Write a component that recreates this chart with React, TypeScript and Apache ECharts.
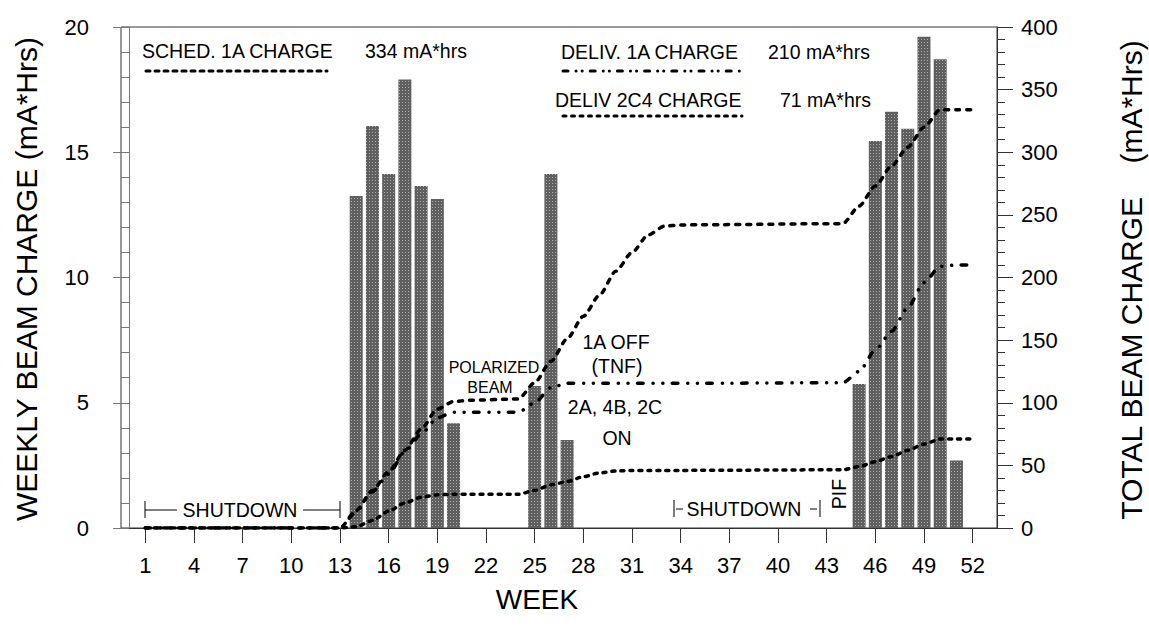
import React, { useEffect, useRef } from "react";
import * as echarts from "echarts";

// Weekly beam charge bars (left axis, mA*Hrs)
const barWeeks = [14, 15, 16, 17, 18, 19, 20, 25, 26, 27, 45, 46, 47, 48, 49, 50, 51];
const barValues = [13.25, 16.05, 14.13, 17.9, 13.65, 13.13, 4.18, 5.67, 14.13, 3.51, 5.75, 15.45, 16.62, 15.94, 19.61, 18.71, 2.69];

// Cumulative lines (right axis, mA*Hrs)
const lineWeeks = [1, 13, 14, 15, 16, 17, 18, 19, 20, 21, 24, 25, 26, 27, 28, 29, 30, 31, 32, 33, 34, 44, 45, 46, 47, 48, 49, 50, 51, 52];
const sched1A = [0, 0, 14, 30, 45, 62, 79, 95, 101, 102, 103, 116, 133, 151, 169, 186, 205, 220, 234, 241, 242, 243, 257, 273, 289, 304, 320, 334, 334, 334];
const deliv1A = [0, 0, 13, 29, 43, 61, 75, 88, 92.5, 92.5, 92.5, 100, 112, 115.5, 115.5, 115.5, 115.5, 115.5, 115.5, 115.5, 115.5, 116, 125, 142, 157, 176, 196, 209, 210, 210];
const deliv2C4 = [0, 0, 1, 6, 13.5, 20, 24.5, 26.5, 27, 27, 27, 30, 34.5, 37, 41, 44, 45.5, 46, 46, 46, 46, 46.5, 49, 53, 57, 62, 67, 71, 71, 71];

const weekTicks = [1, 4, 7, 10, 13, 16, 19, 22, 25, 28, 31, 34, 37, 40, 43, 46, 49, 52];

const FONT = "'Liberation Sans', Arial, Helvetica, sans-serif";
const SCHED_DASH = [4, 7];
const DELIV_DASH = [5.5, 10, 0.1, 9.5, 0.1, 9.5];
const C4_DASH = [3, 6];

function txt(text: string, x: number, y: number, size: number, align = "left", rotation = 0) {
  return {
    type: "text",
    x,
    y,
    rotation,
    z: 100,
    style: {
      text,
      fontSize: size,
      fontFamily: FONT,
      fill: "#000",
      align,
      verticalAlign: "middle",
      textAlign: align,
      textVerticalAlign: "middle",
    },
  };
}

function seg(x1: number, y1: number, x2: number, y2: number, dash: any, width = 1) {
  return {
    type: "line",
    z: 100,
    shape: { x1, y1, x2, y2 },
    style: { stroke: "#000", lineWidth: width, lineDash: dash, lineCap: dash ? "round" : "butt" },
  };
}

export default function App() {
  const ref = useRef<HTMLDivElement>(null);
  useEffect(() => {
    const chart = echarts.init(ref.current!, null, { renderer: "svg" });
    const pairs = (vals: number[]) => lineWeeks.map((w, i) => [w, vals[i]]);
    chart.setOption({
      animation: false,
      backgroundColor: "#fff",
      grid: { left: 121, right: 152, top: 27, bottom: 102, show: true, borderColor: "#333", borderWidth: 1 },
      xAxis: {
        type: "value",
        min: -0.5,
        max: 53.5,
        axisLine: { show: true, lineStyle: { color: "#333", width: 1 } },
        axisTick: { show: true, customValues: weekTicks, length: 15, lineStyle: { color: "#333" } },
        axisLabel: { customValues: weekTicks, fontSize: 22, color: "#000", margin: 26, fontFamily: FONT },
        splitLine: { show: false },
      },
      yAxis: [
        {
          type: "value",
          min: 0,
          max: 20,
          interval: 5,
          position: "left",
          axisLine: { show: true, lineStyle: { color: "#777" } },
          axisTick: { show: true, length: 16, lineStyle: { color: "#777" } },
          minorTick: { show: true, splitNumber: 5, length: 8, lineStyle: { color: "#777" } },
          splitLine: { show: false },
          axisLabel: { fontSize: 22, color: "#000", margin: 32, fontFamily: FONT },
        },
        {
          type: "value",
          min: 0,
          max: 400,
          interval: 50,
          position: "right",
          axisLine: { show: true, lineStyle: { color: "#333" } },
          axisTick: { show: true, length: 16, lineStyle: { color: "#333" } },
          minorTick: { show: true, splitNumber: 5, length: 8, lineStyle: { color: "#333" } },
          splitLine: { show: false },
          axisLabel: { fontSize: 22, color: "#000", margin: 24, fontFamily: FONT },
        },
      ],
      series: [
        {
          type: "bar",
          yAxisIndex: 0,
          barWidth: 13,
          data: barWeeks.map((w, i) => [w, barValues[i]]),
          itemStyle: {
            color: "#5f5f5f",
            decal: {
              symbol: "rect",
              symbolSize: 1,
              color: "rgba(255,255,255,0.5)",
              dashArrayX: [1, 2],
              dashArrayY: [1, 2],
              rotation: 0,
            },
          },
        },
        {
          type: "line",
          yAxisIndex: 1,
          data: pairs(sched1A),
          showSymbol: false,
          smooth: 0.25,
          smoothMonotone: "x",
          lineStyle: { color: "#000", width: 3.5, type: SCHED_DASH, cap: "round" },
        },
        {
          type: "line",
          yAxisIndex: 1,
          data: pairs(deliv1A),
          showSymbol: false,
          smooth: 0.25,
          smoothMonotone: "x",
          lineStyle: { color: "#000", width: 3.5, type: DELIV_DASH, cap: "round" },
        },
        {
          type: "line",
          yAxisIndex: 1,
          data: pairs(deliv2C4),
          showSymbol: false,
          smooth: 0.25,
          smoothMonotone: "x",
          lineStyle: { color: "#000", width: 3.5, type: C4_DASH, cap: "round" },
        },
      ],
      graphic: [
        // legend
        txt("SCHED. 1A CHARGE", 142, 51, 19.5),
        txt("334 mA*hrs", 365, 51, 19.5),
        seg(146, 71, 327, 71, [4, 5], 3),
        txt("DELIV. 1A CHARGE", 561, 52, 19.5),
        txt("210 mA*hrs", 768, 52, 19.5),
        seg(563, 71, 740, 71, [5, 8, 0.1, 6, 0.1, 8], 3),
        txt("DELIV 2C4 CHARGE", 555, 100, 19.5),
        txt("71 mA*hrs", 780, 100, 19.5),
        seg(563, 116, 742, 116, [3, 5.5], 3),
        // shutdown 1
        seg(145, 501, 145, 518, null),
        seg(145, 510, 177, 510, null),
        txt("SHUTDOWN", 240, 510, 19.5, "center"),
        seg(303, 510, 340, 510, null),
        seg(340, 501, 340, 518, null),
        // shutdown 2
        seg(674, 500, 674, 517, null),
        seg(676, 509, 683, 509, null),
        txt("SHUTDOWN", 744, 509, 19.5, "center"),
        seg(810, 509, 817, 509, null),
        seg(820, 500, 820, 517, null),
        txt("PIF", 839, 494, 19.5, "center", Math.PI / 2),
        // notes
        txt("POLARIZED", 494, 367, 16, "center"),
        txt("BEAM", 490, 387, 16, "center"),
        txt("1A OFF", 616, 342, 19.5, "center"),
        txt("(TNF)", 617, 366, 19.5, "center"),
        txt("2A, 4B, 2C", 615, 407, 19.5, "center"),
        txt("ON", 617, 438, 19.5, "center"),
        // axis titles
        txt("WEEKLY BEAM CHARGE (mA*Hrs)", 26, 279, 30, "center", Math.PI / 2),
        txt("TOTAL BEAM CHARGE    (mA*Hrs)", 1131, 280, 30, "center", Math.PI / 2),
        txt("WEEK", 537, 599, 28, "center"),
      ],
    });
    return () => chart.dispose();
  }, []);
  return <div ref={ref} style={{ position: "absolute", left: 0, top: 0, width: 1149, height: 630 }} />;
}
